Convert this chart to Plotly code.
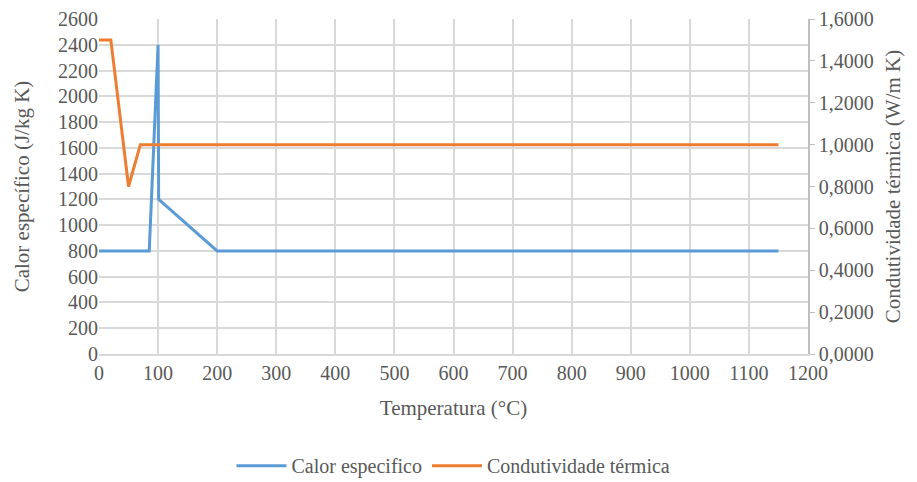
import plotly.graph_objects as go

# Calor específico (J/kg K) vs temperatura (°C)
temp_cp = [0, 85, 100, 101, 200, 1150]
calor_especifico = [800, 800, 2400, 1200, 800, 800]

# Condutividade térmica (W/m K) vs temperatura (°C)
temp_k = [0, 20, 50, 70, 1150]
condutividade = [1.5, 1.5, 0.8, 1.0, 1.0]

x_ticks = list(range(0, 1201, 100))
y1_ticks = list(range(0, 2601, 200))
y2_ticks = [0, 0.2, 0.4, 0.6, 0.8, 1.0, 1.2, 1.4, 1.6]
y2_labels = ["0,0000", "0,2000", "0,4000", "0,6000", "0,8000",
             "1,0000", "1,2000", "1,4000", "1,6000"]

FONT = "Liberation Serif"
TXT = "#595959"
GRID = "#d9d9d9"


def f(size):
    return dict(family=FONT, size=size, color=TXT)


fig = go.Figure()
fig.add_trace(go.Scatter(
    x=temp_cp, y=calor_especifico, mode="lines", name="Calor especifico",
    line=dict(color="#5B9BD5", width=3), yaxis="y"))
fig.add_trace(go.Scatter(
    x=temp_k, y=condutividade, mode="lines", name="Condutividade térmica",
    line=dict(color="#ED7D31", width=3), yaxis="y2"))

fig.update_layout(
    template="none",
    width=917, height=482,
    margin=dict(l=99, r=109, t=19, b=128, autoexpand=False),
    paper_bgcolor="white", plot_bgcolor="white",
    font=f(20),
    showlegend=True,
    legend=dict(orientation="h", x=0.5, xanchor="center", y=-0.275, yanchor="top",
                font=f(20), itemwidth=50, tracegroupgap=0),
    xaxis=dict(range=[0, 1200], tickvals=x_ticks, showgrid=True, gridcolor=GRID,
               gridwidth=1.5, zeroline=False, showline=True, linecolor=GRID,
               linewidth=1.5, ticks="", ticklen=0, tickfont=f(20),
               title=dict(text="Temperatura (°C)", font=f(21), standoff=18)),
    yaxis=dict(range=[0, 2600], tickvals=y1_ticks, showgrid=True, gridcolor=GRID,
               gridwidth=1.5, zeroline=False, showline=False, ticks="", tickfont=f(20),
               title=dict(text="Calor específico (J/kg K)", font=f(21), standoff=22)),
    yaxis2=dict(range=[0, 1.6], tickvals=y2_ticks, ticktext=y2_labels, overlaying="y",
                side="right", showgrid=False, zeroline=False, showline=True,
                linecolor="#bfbfbf", linewidth=1.5, ticks="outside", ticklen=5,
                tickcolor="#bfbfbf", tickfont=f(20),
                title=dict(text="Condutividade térmica (W/m K)", font=f(21), standoff=13)),
)

fig.write_html("out.html")
